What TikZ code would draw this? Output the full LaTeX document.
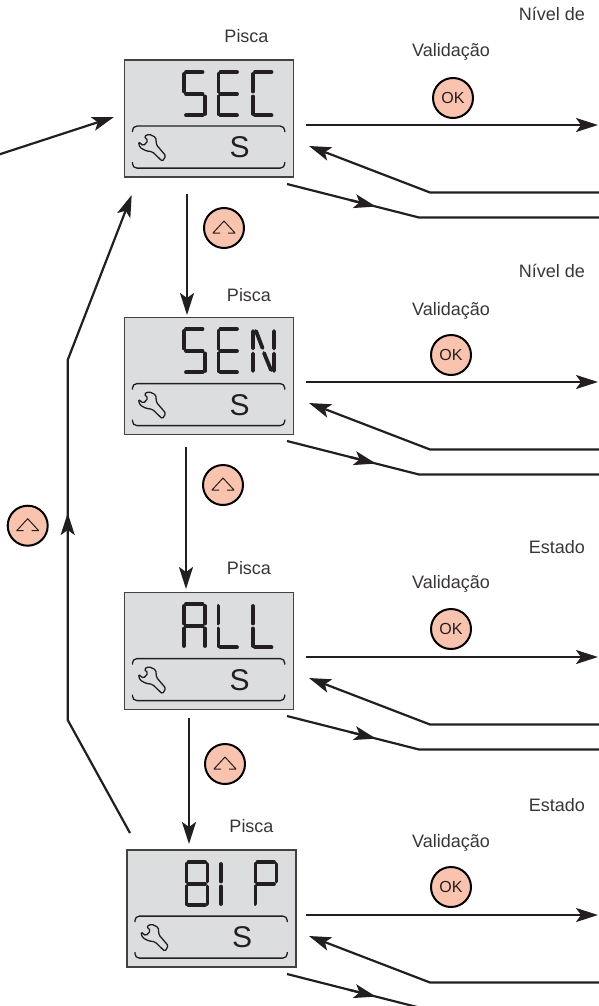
\documentclass[tikz,border=0pt]{standalone}
\usepackage{fontspec}
\setmainfont{Liberation Sans}
\usetikzlibrary{arrows.meta}
\definecolor{inkdark}{HTML}{231F20}
\definecolor{lcdgrey}{HTML}{DCDDDF}
\definecolor{keypink}{HTML}{F9C3AE}
% Segments of one display digit
\def\sega{(4,1.9) -- (20.5,1.9)}
\def\segb{(23,4) -- (23,21.5)}
\def\segc{(23,26.5) -- (23,44)}
\def\segd{(4,45.3) -- (20.5,45.3)}
\def\sege{(1.9,26.5) -- (1.9,44)}
\def\segf{(1.9,4) -- (1.9,21.5)}
\def\segg{(4,24) -- (20.5,24)}
\tikzset{
    >={Stealth[length=22pt,width=14pt,inset=5pt]},
    flow/.style={->, line width=2.2pt, draw=inkdark},
    flowline/.style={line width=2.2pt, draw=inkdark},
    lcdpanel/.style={draw=inkdark!85, line width=1.8pt, fill=lcdgrey, minimum width=169pt, minimum height=117pt, inner sep=0pt},
    lcdseg/.style={line width=3.8pt, line cap=round, draw=inkdark},
    lcdline/.style={line width=1.3pt, draw=inkdark},
    keybtn/.style={circle, draw=black, line width=2pt, fill=keypink, minimum size=40pt, inner sep=0pt, text=inkdark, font=\fontsize{16}{16}\selectfont},
    lbl/.style={text=inkdark!90, inner sep=0pt, font=\fontsize{18}{20}\selectfont},
    glyphS/.pic={\draw[lcdseg] \sega \segf \segg \segc \segd;},
    glyphE/.pic={\draw[lcdseg] \sega \segf \segg \sege \segd;},
    glyphC/.pic={\draw[lcdseg] \sega \segf \sege \segd;},
    glyphN/.pic={\draw[lcdseg] \segf \sege \segb \segc (5,4) -- (11.5,21) (13,26) -- (20,43);},
    glyphA/.pic={\draw[lcdseg] \sega \segf \sege \segb \segc \segg;},
    glyphL/.pic={\draw[lcdseg] \segf \sege \segd;},
    glyphEight/.pic={\draw[lcdseg] \sega \segb \segc \segd \sege \segf \segg;},
    glyphI/.pic={\draw[lcdseg] \segf \sege;},
    glyphP/.pic={\draw[lcdseg] \sega \segf \sege \segb \segg;},
    upicon/.pic={
        \draw[line width=1pt, draw=inkdark, line join=round] (-4,5) -- (-11,5) -- (0,-7) -- (11,5) -- (4,5);
    },
    lcdband/.pic={
        \draw[lcdline, rounded corners=4.5pt] (8.8,73) -- (8.8,67) -- (161.2,67) -- (161.2,73);
        \draw[lcdline, rounded corners=4.5pt] (8.8,103) -- (8.8,109) -- (161.2,109) -- (161.2,103);
        \draw[lcdline, rounded corners=1.5pt] (14.8,82.7) -- (19.8,86.7) -- (24.5,81.7) -- (20.5,77.3) -- (25.5,75) -- (32.2,78.3) -- (32.8,85.7) -- (42.2,96.7) -- (38.8,102.3) -- (28.8,92.7) -- (22.2,91.7) -- (16.2,88.3) -- cycle;
        \node[text=inkdark, inner sep=0pt, font=\fontsize{30}{30}\selectfont] (-unit) at (116,88.3) {S};
    },
    rowlines/.pic={
        \coordinate (-outa) at (306,125);
        \coordinate (-outb) at (598,125);
        \coordinate (-backa) at (599,192.5);
        \coordinate (-backb) at (430,192.5);
        \coordinate (-backc) at (309,146);
        \coordinate (-lowa) at (287,184);
        \coordinate (-lowt) at (350,200);
        \coordinate (-lowm) at (376,206.6);
        \coordinate (-lowb) at (419,217.5);
        \coordinate (-lowc) at (599,217.5);
        \draw[flow] (-outa) -- (-outb);
        \draw[flow] (-backa) -- (-backb) -- (-backc);
        \draw[flowline] (-lowa) -- (-lowb) -- (-lowc);
        \draw[flow, shorten <=0pt] (-lowt) -- (-lowm);
    }
}
\begin{document}
\begin{tikzpicture}[x=1pt, y=-1pt]
    \useasboundingbox (0,0) rectangle (599,1006);

    % Draw the four display panels
    \node[lcdpanel] (sec) at (209,118.5) {};
    \node[lcdpanel] (sen) at (209,376) {};
    \node[lcdpanel] (all) at (209,651) {};
    \node[lcdpanel] (bip) at (211.5,908.5) {};

    % Draw the lower band of each panel
    \pic (secband) at (sec.north west) {lcdband};
    \pic (senband) at (sen.north west) {lcdband};
    \pic (allband) at (all.north west) {lcdband};
    \pic (bipband) at (bip.north west) {lcdband};

    % Draw the display letters
    \pic at (182,70) {glyphS};
    \pic at (216.5,70) {glyphE};
    \pic at (251,70) {glyphC};
    \pic at (182,327) {glyphS};
    \pic at (216.5,327) {glyphE};
    \pic at (251,327) {glyphN};
    \pic at (182,602) {glyphA};
    \pic at (216.5,602) {glyphL};
    \pic at (251,602) {glyphL};
    \pic at (184.5,860) {glyphEight};
    \pic at (219,860) {glyphI};
    \pic at (253.5,860) {glyphP};

    % Place the labels above each panel
    \node[lbl, anchor=base] (secblink) at (246.5,42.5) {Pisca};
    \node[lbl, anchor=base] (senblink) at (249,301) {Pisca};
    \node[lbl, anchor=base] (allblink) at (249,574) {Pisca};
    \node[lbl, anchor=base] (bipblink) at (251.5,832) {Pisca};

    % Place the labels on the right
    \node[lbl, anchor=base east] (secnext) at (585,20.5) {Nível de};
    \node[lbl, anchor=base east] (sennext) at (585,277.5) {Nível de};
    \node[lbl, anchor=base east] (allnext) at (585,553) {Estado};
    \node[lbl, anchor=base east] (bipnext) at (585,811) {Estado};
    \node[lbl, anchor=base] (secok) at (451,56.5) {Validação};
    \node[lbl, anchor=base] (senok) at (451,315) {Validação};
    \node[lbl, anchor=base] (allok) at (451,588) {Validação};
    \node[lbl, anchor=base] (bipok) at (451,847) {Validação};

    % Draw the OK buttons
    \node[keybtn] (secokkey) at (453,98) {OK};
    \node[keybtn] (senokkey) at (451,355) {OK};
    \node[keybtn] (allokkey) at (451,629) {OK};
    \node[keybtn] (bipokkey) at (451,887) {OK};

    % Draw the up buttons
    \node[keybtn] (secup) at (224,228) {};
    \node[keybtn] (senup) at (223,485) {};
    \node[keybtn] (allup) at (225,764) {};
    \node[keybtn] (loopup) at (27.7,525.7) {};
    \pic at (secup) {upicon};
    \pic at (senup) {upicon};
    \pic at (allup) {upicon};
    \pic at (loopup) {upicon};

    % Draw the lines on the right of each panel
    \pic (secrow) at (0,0) {rowlines};
    \pic (senrow) at (0,257) {rowlines};
    \pic (allrow) at (0,532) {rowlines};
    \pic (biprow) at (0,790) {rowlines};

    % Draw the arrows between the panels
    \coordinate (secfoot) at (187,194);
    \coordinate (sentop) at (187,315);
    \coordinate (senfoot) at (186,447);
    \coordinate (alltop) at (186,589);
    \coordinate (allfoot) at (189,718);
    \coordinate (biptop) at (189,844);
    \draw[flow] (secfoot) -- (sentop);
    \draw[flow] (senfoot) -- (alltop);
    \draw[flow] (allfoot) -- (biptop);

    % Draw the arrow coming in from the left
    \coordinate (entry) at (-1,154.5);
    \coordinate (entrytip) at (114,117);
    \draw[flow] (entry) -- (entrytip);

    % Draw the long way back to the first panel
    \coordinate (bipleft) at (130,833);
    \coordinate (loopa) at (67.7,720);
    \coordinate (loopt) at (67.7,540);
    \coordinate (loopm) at (67.7,513);
    \coordinate (loopb) at (67.7,360);
    \coordinate (secleft) at (131.7,195);
    \draw[flow] (bipleft) -- (loopa) -- (loopb) -- (secleft);
    \draw[flow] (loopt) -- (loopm);
\end{tikzpicture}
\end{document}
